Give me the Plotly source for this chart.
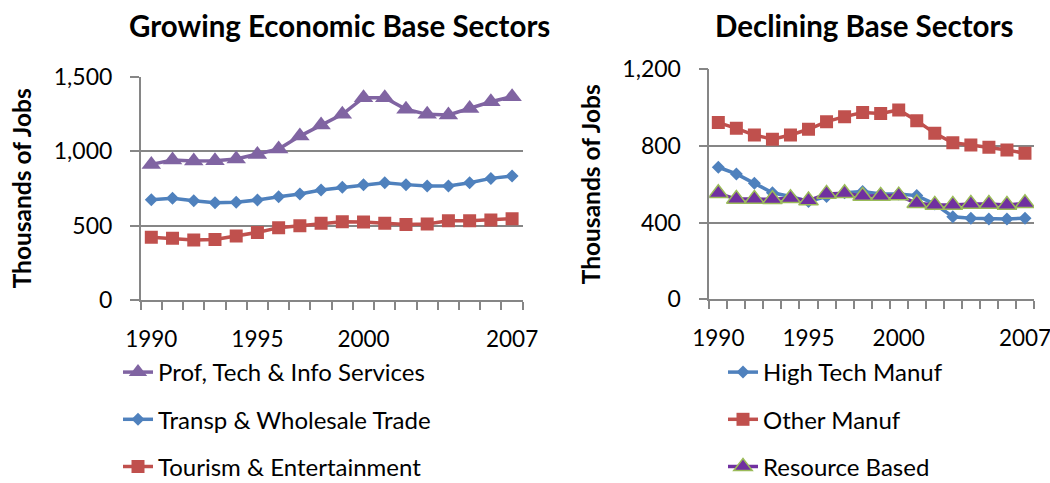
import plotly.graph_objects as go

years = list(range(1990, 2008))

# Growing sectors (thousands of jobs)
prof_tech = [911, 940, 934, 936, 947, 978, 1014, 1101, 1175, 1247, 1359, 1359, 1281, 1247, 1243, 1287, 1332, 1366]
transp = [674, 683, 667, 654, 656, 672, 694, 712, 739, 757, 775, 788, 775, 766, 766, 788, 817, 833]
tourism = [421, 414, 403, 407, 430, 454, 486, 499, 515, 526, 524, 515, 508, 510, 533, 533, 537, 546]

# Declining sectors (thousands of jobs)
high_tech = [689, 654, 605, 556, 536, 510, 536, 556, 562, 549, 549, 541, 497, 431, 423, 419, 419, 423]
other_manuf = [922, 892, 857, 835, 857, 887, 927, 953, 974, 970, 988, 932, 866, 817, 805, 793, 779, 762]
resource = [553, 523, 523, 522, 527, 515, 550, 553, 539, 539, 541, 501, 492, 492, 497, 497, 492, 501]

xtick_vals = [1990, 1995, 2000, 2007]
xtick_text = ["1990", "1995", "2000", "2007"]

FONT = "Lato, 'Liberation Sans', Arial, sans-serif"
GRID = "#868686"
PURPLE = "#8064A2"
BLUE = "#4F81BD"
RED = "#C0504D"
RES_PURPLE = "#7030A0"
RES_GREEN = "#9BBB59"

fig = go.Figure()

def add(name, y, color, symbol, size, xa, ya, legend, outline=None):
    fig.add_trace(go.Scatter(
        x=years, y=y, name=name, mode="lines+markers",
        line=dict(color=color, width=3.5),
        marker=dict(symbol=symbol, size=size, color=color,
                    line=dict(color=outline or color, width=1.5 if outline else 0)),
        xaxis=xa, yaxis=ya, legend=legend, legendgroup=name,
    ))

add("Prof, Tech & Info Services", prof_tech, PURPLE, "triangle-up", 17, "x", "y", "legend")
add("Transp & Wholesale Trade", transp, BLUE, "diamond", 10, "x", "y", "legend")
add("Tourism & Entertainment", tourism, RED, "square", 13, "x", "y", "legend")

add("High Tech Manuf", high_tech, BLUE, "diamond", 10, "x2", "y2", "legend2")
add("Other Manuf", other_manuf, RED, "square", 13, "x2", "y2", "legend2")
add("Resource Based", resource, RES_PURPLE, "triangle-up", 17, "x2", "y2", "legend2", outline=RES_GREEN)

W, H = 1050, 483

def xaxis(domain):
    return dict(
        domain=domain, range=[1989.5, 2007.5], showgrid=False, zeroline=False,
        tickmode="array", tickvals=xtick_vals, ticktext=xtick_text, ticks="",
        ticklabelstandoff=18, automargin=False, ticklabeloverflow="allow",
        showline=True, linecolor=GRID, linewidth=1.5,
        minor=dict(tickmode="linear", tick0=1989.5, dtick=1, ticks="outside",
                   ticklen=8, tickcolor=GRID, tickwidth=1.5, showgrid=False),
        tickfont=dict(family=FONT, size=22.5, color="black"),
        fixedrange=True,
    )

def yaxis(domain, rng, dtick, anchor):
    return dict(
        domain=domain, range=rng, dtick=dtick, tickformat=",", anchor=anchor,
        showgrid=True, gridcolor=GRID, gridwidth=1.5, zeroline=False,
        showline=True, linecolor=GRID, linewidth=1.5, automargin=False,
        ticks="outside", ticklen=9, tickcolor=GRID, tickwidth=1.5,
        ticklabelstandoff=13,
        tickfont=dict(family=FONT, size=23, color="black"),
        title=dict(text="<b>Thousands of Jobs</b>", font=dict(family=FONT, size=24.5, color="black"), standoff=15),
        fixedrange=True,
    )

fig.update_layout(
    width=W, height=H,
    margin=dict(l=0, r=0, t=0, b=0, autoexpand=False),
    paper_bgcolor="white", plot_bgcolor="white",
    font=dict(family=FONT, color="black"),
    xaxis=xaxis([140.7 / W, 522.7 / W]) | dict(anchor="y"),
    yaxis=yaxis([1 - 300 / H, 1 - 76.7 / H], [0, 1500], 500, "x"),
    xaxis2=xaxis([709.3 / W, 1034 / W]) | dict(anchor="y2"),
    yaxis2=yaxis([1 - 299.3 / H, 1 - 69.3 / H], [0, 1200], 400, "x2"),
    legend=dict(x=118 / W, y=1 - 350 / H, xanchor="left", yanchor="top",
                font=dict(family=FONT, size=24, color="black"),
                tracegroupgap=13, bgcolor="rgba(0,0,0,0)", itemwidth=30),
    legend2=dict(x=723 / W, y=1 - 350 / H, xanchor="left", yanchor="top",
                 font=dict(family=FONT, size=24, color="black"),
                 tracegroupgap=13, bgcolor="rgba(0,0,0,0)", itemwidth=30),
    annotations=[
        dict(text="<b>Growing Economic Base Sectors</b>", x=339 / W, y=1 - 25 / H,
             xref="paper", yref="paper", showarrow=False, xanchor="center", yanchor="middle",
             font=dict(family=FONT, size=29.5, color="black")),
        dict(text="<b>Declining Base Sectors</b>", x=864 / W, y=1 - 25 / H,
             xref="paper", yref="paper", showarrow=False, xanchor="center", yanchor="middle",
             font=dict(family=FONT, size=29.5, color="black")),
    ],
)

fig.write_html("out.html", config={"displayModeBar": False},
               post_script="document.body.style.margin='0';document.body.style.overflow='hidden';")
